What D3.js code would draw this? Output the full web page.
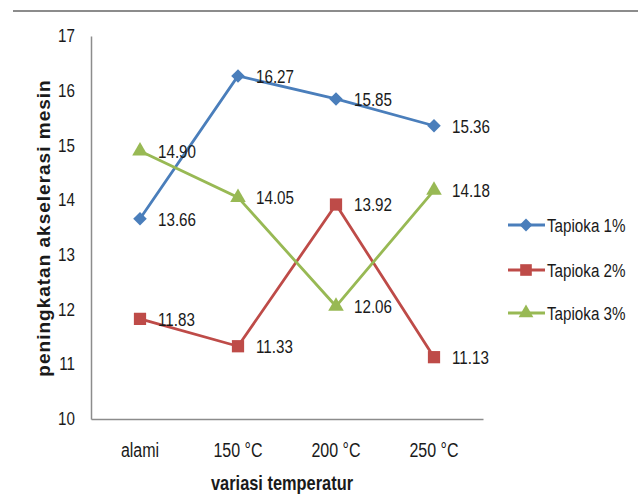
<!DOCTYPE html>
<html><head><meta charset="utf-8">
<script src="https://cdn.jsdelivr.net/npm/d3@7/dist/d3.min.js"></script>
<style>body{margin:0;background:#fff;} text{font-family:"Liberation Sans",Arial,sans-serif;fill:#1a1a1a;}</style>
</head><body>
<svg id="c" width="638" height="495"></svg>
<script>
const categories = ["alami", "150 °C", "200 °C", "250 °C"];
const seriesNames = ["Tapioka 1%", "Tapioka 2%", "Tapioka 3%"];
const tapioka1 = [13.66, 16.27, 15.85, 15.36];
const tapioka2 = [11.83, 11.33, 13.92, 11.13];
const tapioka3 = [14.90, 14.05, 12.06, 14.18];
const yTicks = [10, 11, 12, 13, 14, 15, 16, 17];

const series = [
  {name: seriesNames[0], values: tapioka1, color: "#4a7ebb", sym: d3.symbolSquare, size: 92, rot: 45},
  {name: seriesNames[1], values: tapioka2, color: "#be4b48", sym: d3.symbolSquare, size: 150, rot: 0},
  {name: seriesNames[2], values: tapioka3, color: "#98b954", sym: d3.symbolTriangle, size: 105, rot: 0}
];

const SX = 0.8, FS = 19;
const svg = d3.select("#c");
const L = 91, R = 483, T = 36, B = 419;
const x = d3.scaleBand().domain(categories).range([L, R]);
const y = d3.scaleLinear().domain([10, 17]).range([B, T]);

// top border line
svg.append("line").attr("x1", 13).attr("x2", 638).attr("y1", 11).attr("y2", 11)
  .attr("stroke", "#8c8c8c").attr("stroke-width", 2);

// axes
const yAxis = svg.append("g").attr("transform", `translate(${L},0)`)
  .call(d3.axisLeft(y).tickValues(yTicks).tickFormat(d3.format("d")).tickSize(0).tickPadding(16 / SX));
yAxis.select(".domain").attr("stroke", "#8c8c8c").attr("stroke-width", 1.5);
yAxis.selectAll("text").attr("font-size", FS).style("font-family", "Liberation Sans, Arial, sans-serif")
  .attr("fill", "#1a1a1a").attr("dy", "0.3em").attr("transform", `scale(${SX},1)`);

const xAxis = svg.append("g").attr("transform", `translate(0,${B})`)
  .call(d3.axisBottom(x).tickSize(0).tickPadding(24));
xAxis.select(".domain").attr("stroke", "#8c8c8c").attr("stroke-width", 1.5);
xAxis.selectAll("text").attr("font-size", 20).style("font-family", "Liberation Sans, Arial, sans-serif")
  .attr("fill", "#1a1a1a").attr("transform", `scale(${SX},1)`);

// axis titles
svg.append("text").attr("transform", `translate(282,490) scale(0.82,1)`).attr("text-anchor", "middle")
  .attr("font-size", 20).attr("font-weight", "bold").text("variasi temperatur");
svg.append("text").attr("transform", "translate(50,228) rotate(-90)").attr("text-anchor", "middle")
  .attr("font-size", 19).attr("font-weight", "bold").attr("letter-spacing", 1).text("peningkatan akselerasi mesin");

const cx = c => x(c) + x.bandwidth() / 2;
const line = d3.line().x((d, i) => cx(categories[i])).y(d => y(d));

series.forEach(s => {
  svg.append("path").attr("d", line(s.values)).attr("fill", "none")
    .attr("stroke", s.color).attr("stroke-width", 2.8);
  s.values.forEach((v, i) => {
    svg.append("path").attr("d", d3.symbol().type(s.sym).size(s.size)())
      .attr("transform", `translate(${cx(categories[i])},${y(v)}) rotate(${s.rot})`).attr("fill", s.color);
    svg.append("text").attr("transform", `translate(${cx(categories[i]) + 18},${y(v)}) scale(${SX},1)`)
      .attr("dy", "0.36em").attr("font-size", FS).text(v.toFixed(2));
  });
});

// legend
const legY = [225, 270, 313];
series.forEach((s, i) => {
  const g = svg.append("g").attr("transform", `translate(508,${legY[i]})`);
  g.append("line").attr("x1", 0).attr("x2", 37).attr("stroke", s.color).attr("stroke-width", 2.8);
  g.append("path").attr("d", d3.symbol().type(s.sym).size(s.size * 0.9)())
    .attr("transform", `translate(18,0) rotate(${s.rot})`).attr("fill", s.color);
  g.append("text").attr("transform", `translate(39,0) scale(${SX},1)`).attr("dy", "0.36em").attr("font-size", FS).text(s.name);
});
</script>
</body></html>
